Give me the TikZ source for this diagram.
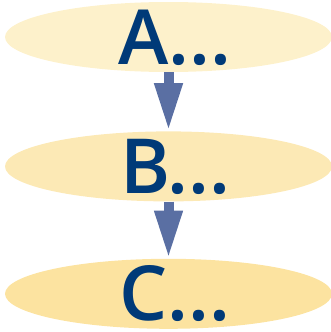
\documentclass[tikz,border=0pt]{standalone}
\usepackage{fontspec}
\setmainfont{Open Sans}[BoldFont={Open Sans Semibold}]
\usetikzlibrary{arrows.meta,positioning,shapes.geometric}
\definecolor{stepone}{HTML}{FDF1CB}
\definecolor{steptwo}{HTML}{FCE9B5}
\definecolor{stepthree}{HTML}{FCE3A0}
\definecolor{labelblue}{HTML}{003A78}
\definecolor{arrowblue}{HTML}{5A6FA3}
% caps centred on the node, box kept flat so the ellipse keeps its size
\newcommand\stagetext[1]{\raisebox{-27pt}[0pt][0pt]{\hspace*{13pt}#1}}

\begin{document}
\begin{tikzpicture}[
  arrow/.style={-{Triangle[width=26pt,length=48pt]}, draw=arrowblue, line width=10pt},
  stage/.style={ellipse, minimum width=327pt, minimum height=70pt, inner sep=0pt, text=labelblue, font=\fontsize{76}{76}\selectfont\bfseries}
]
\useasboundingbox (0,0) rectangle (331pt,-332pt);

\node[stage, fill=stepone] (first) at (168.5pt,-37pt) {\stagetext{A...}};
\node[stage, fill=steptwo, below=59pt of first] (second) {\stagetext{B...}};
\node[stage, fill=stepthree, below=57pt of second] (third) {\stagetext{C...}};

\draw[arrow] (first) -- (second);
\draw[arrow] (second) -- (third);

\end{tikzpicture}
\end{document}
